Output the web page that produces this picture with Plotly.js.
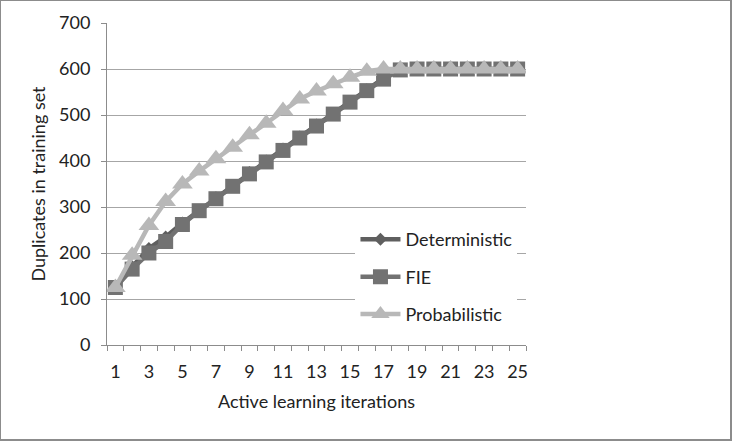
<!DOCTYPE html>
<html><head><meta charset="utf-8">
<script src="https://cdn.plot.ly/plotly-3.0.1.min.js"></script>
<style>
html,body{margin:0;padding:0;background:#fff;}
#wrap{width:729px;height:438px;border:1px solid #8c8c8c;border-right:2px solid #8c8c8c;border-bottom:2px solid #8c8c8c;}
#chart{width:729px;height:438px;}
</style></head>
<body><div id="wrap"><div id="chart"></div></div>
<script>
const iterations = [1,2,3,4,5,6,7,8,9,10,11,12,13,14,15,16,17,18,19,20,21,22,23,24,25];
const deterministic = [125,170,210,235,265,292,320,347,375,400,426,452,478,503,528,555,580,598,600,600,600,600,600,600,600];
const fie = [125,165,200,225,262,292,318,345,372,398,423,450,476,502,528,553,578,598,600,600,600,600,600,600,600];
const probabilistic = [125,195,260,312,350,378,405,430,457,482,510,535,552,568,582,595,600,600,600,600,600,600,600,600,600];
const xTickVals = [1,3,5,7,9,11,13,15,17,19,21,23,25];
const yTickVals = [0,100,200,300,400,500,600,700];

const font = {family: 'Lato, "Open Sans", sans-serif', size: 18, color: '#222'};
const traces = [
  {x: iterations, y: deterministic, name: 'Deterministic', mode: 'lines+markers', legendgroup: 'a',
   line: {color: '#5f5f5f', width: 4.5}, marker: {symbol: 'diamond', size: 10, color: '#5f5f5f'}},
  {x: iterations, y: fie, name: 'FIE', mode: 'lines+markers', legendgroup: 'b',
   line: {color: '#727272', width: 4.5}, marker: {symbol: 'square', size: 15, color: '#727272'}},
  {x: iterations, y: probabilistic, name: 'Probabilistic', mode: 'lines+markers', legendgroup: 'c',
   line: {color: '#b8b8b8', width: 4.5}, marker: {symbol: 'triangle-up', size: 18, color: '#b8b8b8'}}
];
const layout = {
  width: 729, height: 438,
  margin: {l: 106, r: 204, t: 22, b: 94},
  paper_bgcolor: '#fff', plot_bgcolor: '#fff',
  font: font,
  showlegend: true,
  legend: {x: 0.593, y: 0.385, xanchor: 'left', yanchor: 'top', bgcolor: '#fff',
           font: font, tracegroupgap: 11, itemwidth: 40},
  xaxis: {range: [0.5, 25.5], tickvals: xTickVals, ticktext: xTickVals.map(String),
          ticks: '', showgrid: false, zeroline: false, showline: true, linecolor: '#8c8c8c', linewidth: 1,
          minor: {tick0: 0.5, dtick: 1, ticks: 'outside', ticklen: 5, tickcolor: '#8c8c8c', showgrid: false},
          tickfont: font, ticklabelstandoff: 10,
          title: {text: 'Active learning iterations', font: font, standoff: 14}},
  yaxis: {range: [0, 700], tickvals: yTickVals, ticks: 'outside', ticklen: 5, tickcolor: '#8c8c8c',
          showgrid: true, gridcolor: '#a6a6a6', gridwidth: 1, zeroline: false,
          showline: true, linecolor: '#8c8c8c', linewidth: 1, tickfont: font, ticklabelstandoff: 7,
          title: {text: 'Duplicates in training set', font: font, standoff: 8}}
};
Plotly.newPlot('chart', traces, layout, {displayModeBar: false, staticPlot: true});
</script></body></html>
